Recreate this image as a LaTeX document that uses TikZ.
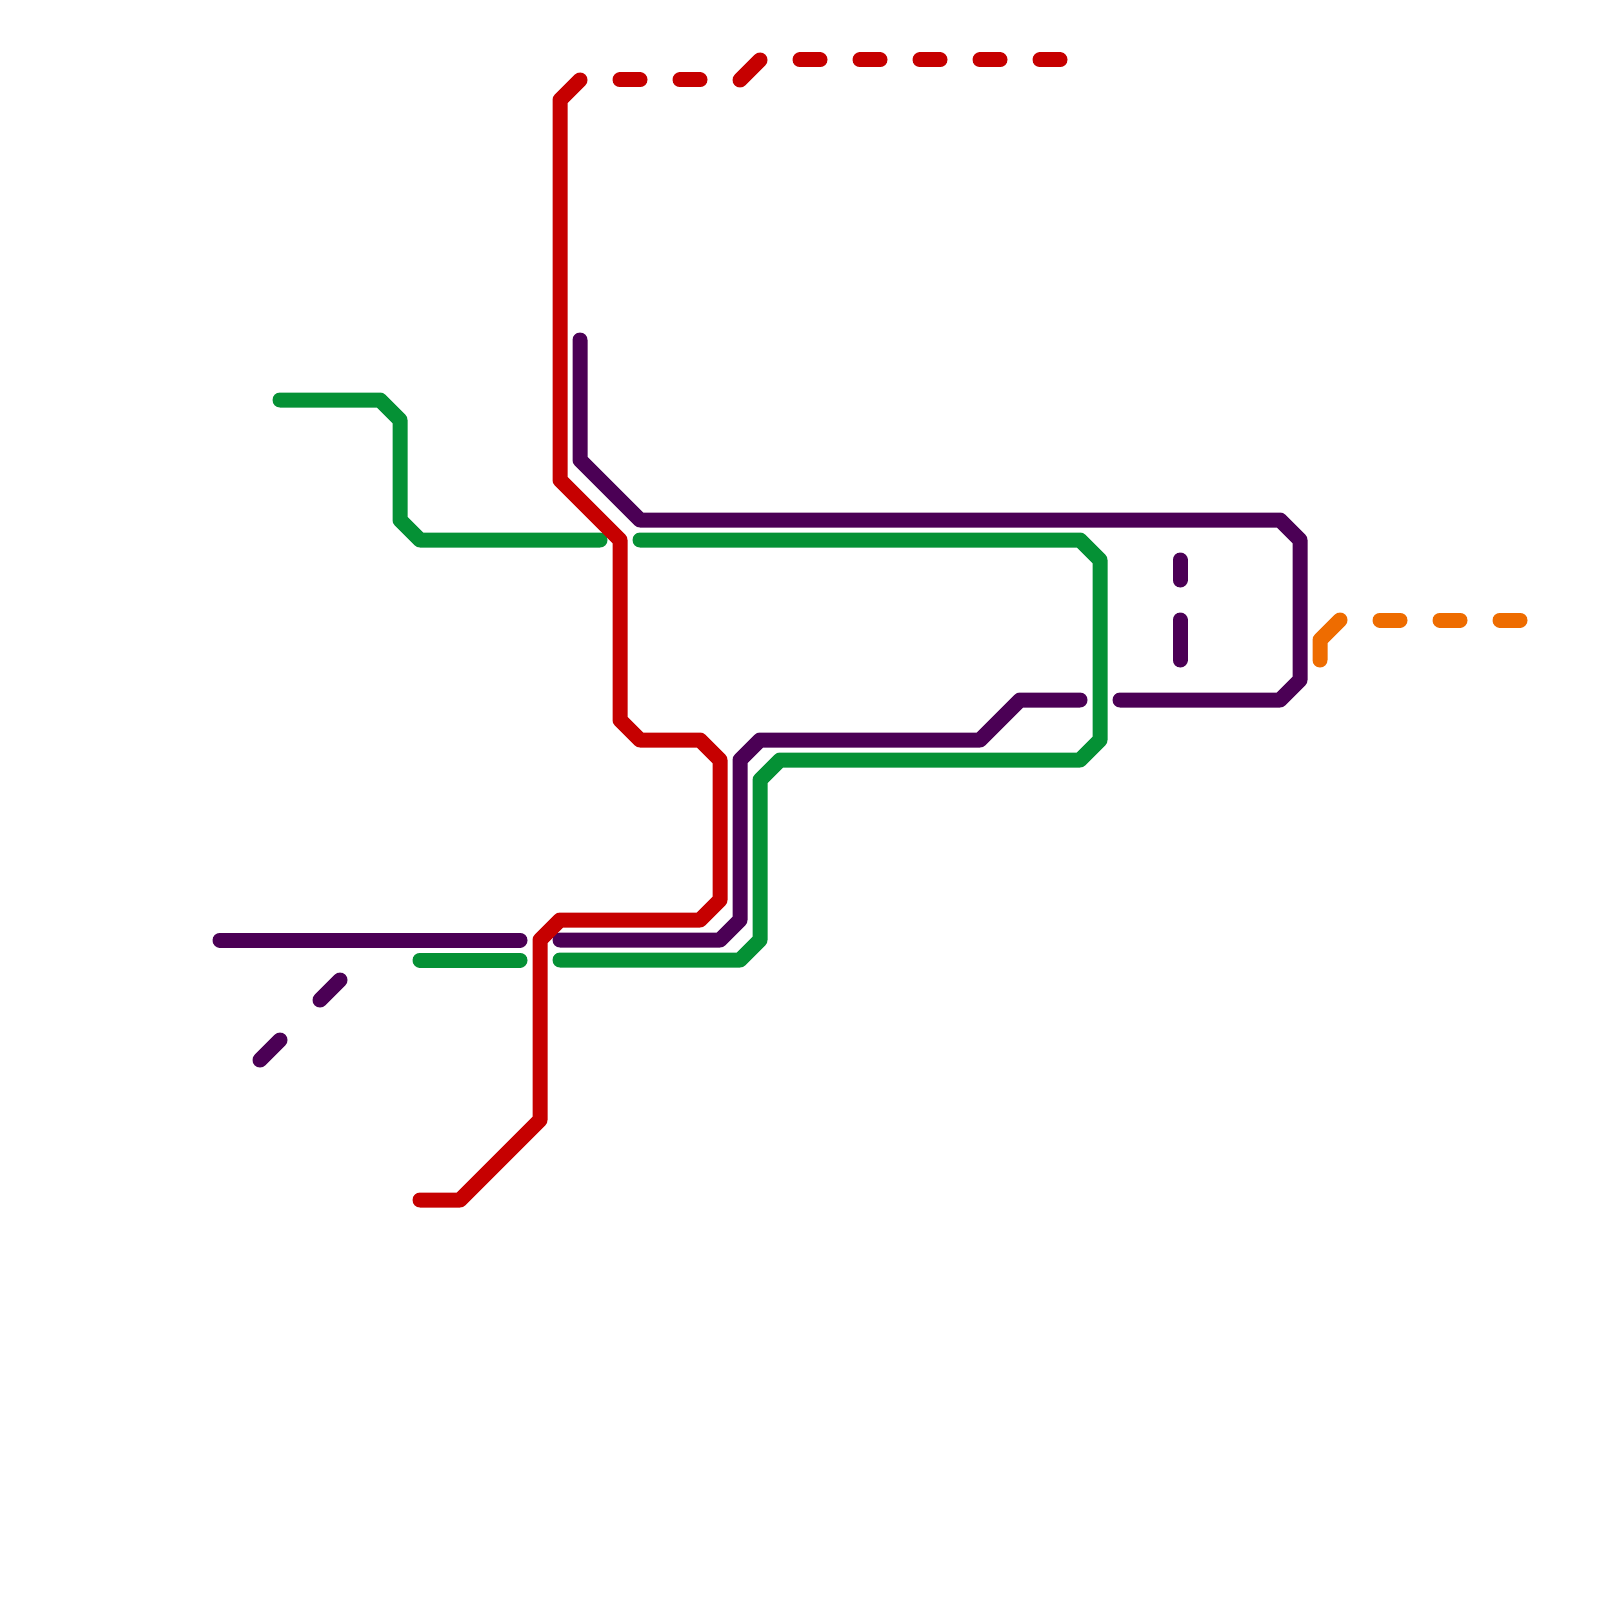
\documentclass[tikz,border=0pt]{standalone}
\definecolor{mred}{HTML}{C60000}
\definecolor{mpurple}{HTML}{4B0055}
\definecolor{mgreen}{HTML}{059135}
\definecolor{morange}{HTML}{EE6C00}
\tikzset{
  metro/.style={line width=7.5pt,line cap=round,line join=round},
  redline/.style={metro,draw=mred},
  purpleline/.style={metro,draw=mpurple},
  greenline/.style={metro,draw=mgreen},
  orangeline/.style={metro,draw=morange}
}
\begin{document}
\begin{tikzpicture}[x=0.5pt,y=-0.5pt]
\path[use as bounding box,fill=white] (0,0) rectangle (1600,1600);
% green
\draw[greenline] (280,400) -- (380,400) -- (400,420) -- (400,520) -- (420,540) -- (600,540);
\draw[greenline] (640,540) -- (1080,540) -- (1100,560) -- (1100,740) -- (1080,760) -- (780,760) -- (760,780) -- (760,940) -- (740,960) -- (560,960);
\draw[greenline] (420,960) -- (520,960);
% purple
\draw[purpleline] (220,940) -- (520,940);
\draw[purpleline] (560,940) -- (720,940) -- (740,920) -- (740,760) -- (760,740) -- (980,740) -- (1020,700) -- (1080,700);
\draw[purpleline] (1120,700) -- (1280,700) -- (1300,680) -- (1300,540) -- (1280,520) -- (640,520) -- (580,460) -- (580,340);
\draw[purpleline] (260,1060) -- (280,1040);
\draw[purpleline] (320,1000) -- (340,980);
\draw[purpleline] (1180,620) -- (1180,660);
\draw[purpleline] (1180,560) -- (1180,580);
% red
\draw[redline] (420,1200) -- (460,1200) -- (540,1120) -- (540,940) -- (560,920) -- (700,920) -- (720,900) -- (720,760) -- (700,740) -- (640,740) -- (620,720) -- (620,540) -- (560,480) -- (560,100) -- (580,80);
\draw[redline] (620,80) -- (640,80);
\draw[redline] (680,80) -- (700,80);
\draw[redline] (740,80) -- (760,60);
\draw[redline] (800,60) -- (820,60);
\draw[redline] (860,60) -- (880,60);
\draw[redline] (920,60) -- (940,60);
\draw[redline] (980,60) -- (1000,60);
\draw[redline] (1040,60) -- (1060,60);
% orange
\draw[orangeline] (1320,660) -- (1320,640) -- (1340,620);
\draw[orangeline] (1380,620) -- (1400,620);
\draw[orangeline] (1440,620) -- (1460,620);
\draw[orangeline] (1500,620) -- (1520,620);
\end{tikzpicture}
\end{document}
